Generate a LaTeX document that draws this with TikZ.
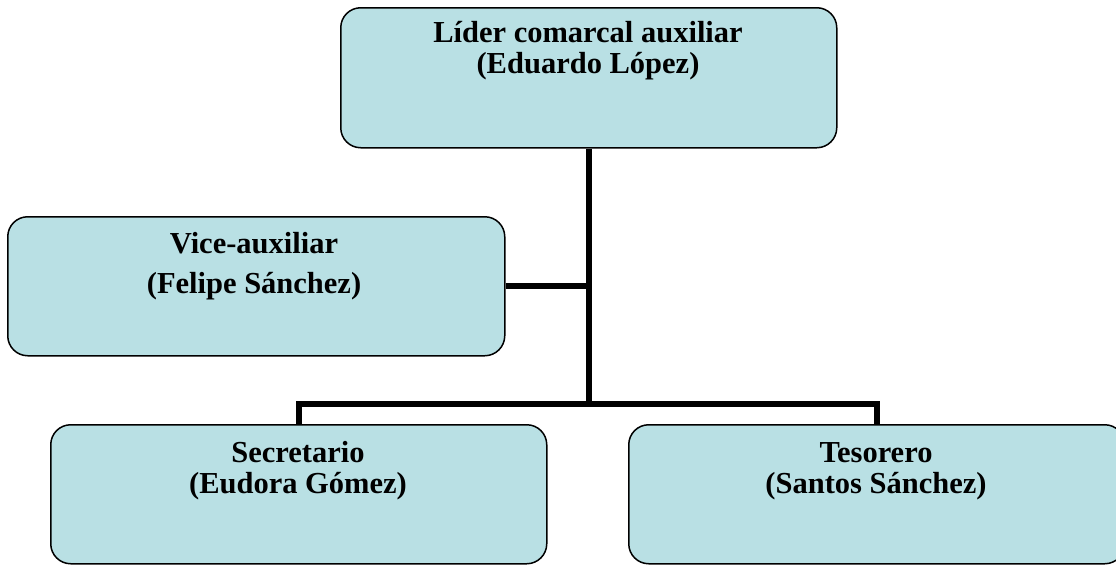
\documentclass[tikz,border=0pt]{standalone}
\usepackage{fontspec}
\setmainfont{Liberation Serif}
\definecolor{boxblue}{RGB}{185,224,228}
\begin{document}
\begin{tikzpicture}[x=1pt,y=-1pt,
  box/.style={draw=black, line width=1.5pt, fill=boxblue, rounded corners=20pt,
    minimum width=496pt, minimum height=139pt, inner sep=0pt, anchor=north west},
  lbl/.style={font=\fontsize{30.5}{36}\selectfont\bfseries, anchor=base, inner sep=0pt},
  conn/.style={line width=6pt}]
\useasboundingbox (0,0) rectangle (1116,565);
\node[box, minimum height=140pt] (top) at (340,7) {};
\node[box, minimum width=497pt] (vice) at (7,216) {};
\node[box] (sec) at (50,424) {};
\node[box] (tes) at (628,424) {};
\coordinate (bus) at (588,404);
\draw[conn] (top.south) -- (top.south |- bus);
\draw[conn] (vice.east) -- (vice.east -| top.south);
\draw[conn] (sec.north) -- (sec.north |- bus) -- (tes.north |- bus) -- (tes.north);
\node[lbl] (t1) at (588,42) {Líder comarcal auxiliar};
\node[lbl] (t2) at (588,73) {(Eduardo López)};
\node[lbl] (v1) at (254,253) {Vice-auxiliar};
\node[lbl] (v2) at (254,293) {(Felipe Sánchez)};
\node[lbl] (s1) at (298,462) {Secretario};
\node[lbl] (s2) at (298,493) {(Eudora Gómez)};
\node[lbl] (r1) at (876,462) {Tesorero};
\node[lbl] (r2) at (876,493) {(Santos Sánchez)};
\end{tikzpicture}
\end{document}
